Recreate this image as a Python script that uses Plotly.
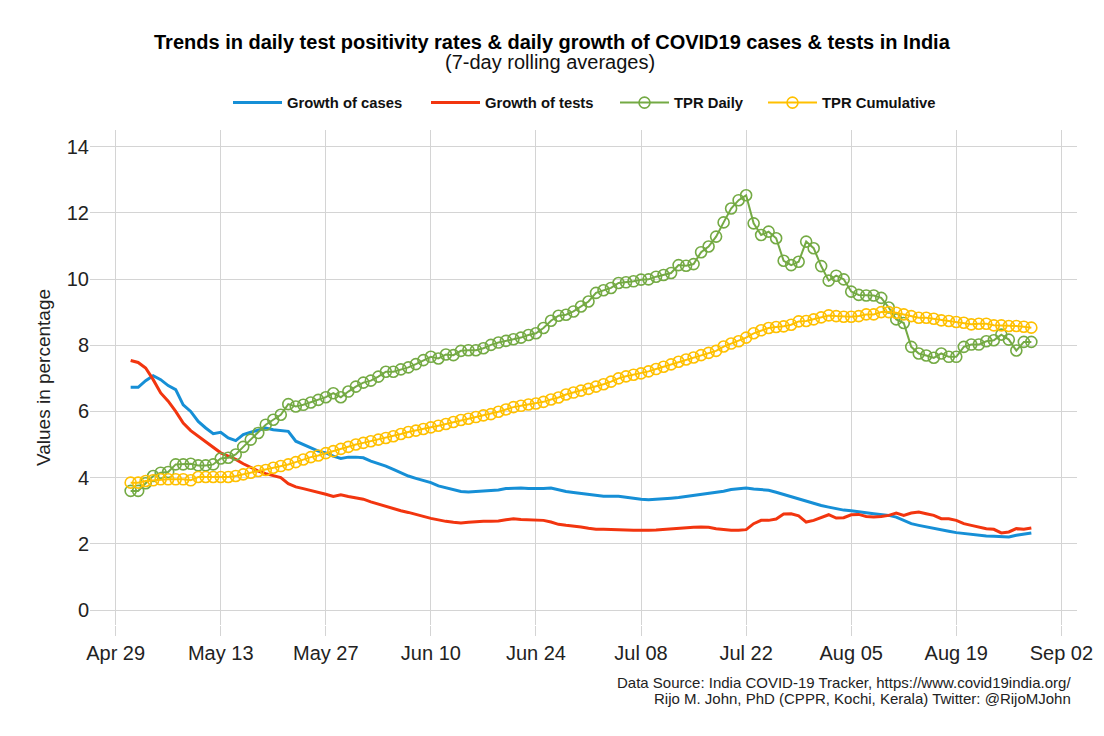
import pandas as pd
import plotly.graph_objects as go

start_date = "2020-05-01"
n_days = 121
dates = pd.date_range(start_date, periods=n_days, freq="D")

growth_cases = [
    6.73, 6.73, 6.93, 7.08, 6.96, 6.78, 6.66, 6.20, 6.00, 5.70,
    5.50, 5.33, 5.37, 5.20, 5.12, 5.30, 5.37, 5.43, 5.50, 5.45,
    5.42, 5.40, 5.10, 5.00, 4.88, 4.80, 4.75, 4.65, 4.58, 4.62,
    4.62, 4.60, 4.50, 4.43, 4.35, 4.25, 4.15, 4.05, 3.98, 3.92,
    3.85, 3.75, 3.70, 3.63, 3.58, 3.57, 3.58, 3.60, 3.61, 3.63,
    3.67, 3.69, 3.69, 3.67, 3.66, 3.67, 3.69, 3.63, 3.58, 3.55,
    3.52, 3.49, 3.45, 3.44, 3.44, 3.44, 3.41, 3.37, 3.35, 3.33,
    3.34, 3.36, 3.38, 3.40, 3.43, 3.45, 3.50, 3.53, 3.55, 3.59,
    3.64, 3.66, 3.69, 3.66, 3.65, 3.62, 3.56, 3.49, 3.44, 3.37,
    3.29, 3.22, 3.16, 3.11, 3.06, 3.02, 3.00, 2.98, 2.94, 2.91,
    2.89, 2.86, 2.81, 2.71, 2.61, 2.56, 2.51, 2.46, 2.41, 2.38,
    2.34, 2.31, 2.29, 2.26, 2.24, 2.23, 2.21, 2.21, 2.26, 2.29,
    2.33,
]

growth_tests = [
    7.54, 7.48, 7.31, 6.96, 6.56, 6.31, 6.00, 5.65, 5.42, 5.25,
    5.07, 4.90, 4.75, 4.65, 4.55, 4.42, 4.30, 4.20, 4.12, 4.05,
    4.00, 3.82, 3.72, 3.67, 3.62, 3.55, 3.50, 3.43, 3.48, 3.43,
    3.40, 3.35, 3.27, 3.20, 3.15, 3.07, 3.00, 2.95, 2.90, 2.83,
    2.77, 2.72, 2.68, 2.65, 2.63, 2.65, 2.67, 2.68, 2.68, 2.69,
    2.73, 2.76, 2.74, 2.73, 2.73, 2.71, 2.66, 2.59, 2.56, 2.54,
    2.51, 2.47, 2.44, 2.44, 2.44, 2.43, 2.42, 2.41, 2.40, 2.41,
    2.42, 2.44, 2.46, 2.47, 2.48, 2.50, 2.51, 2.50, 2.46, 2.43,
    2.41, 2.41, 2.43, 2.61, 2.71, 2.71, 2.75, 2.90, 2.91, 2.85,
    2.66, 2.71, 2.80, 2.88, 2.78, 2.79, 2.88, 2.89, 2.83, 2.81,
    2.83, 2.86, 2.93, 2.86, 2.93, 2.96, 2.91, 2.86, 2.76, 2.76,
    2.71, 2.61, 2.56, 2.51, 2.46, 2.44, 2.33, 2.36, 2.46, 2.44,
    2.48,
]

tpr_daily = [
    3.60, 3.60, 3.83, 4.05, 4.15, 4.17, 4.40, 4.40, 4.42, 4.37,
    4.37, 4.40, 4.58, 4.60, 4.70, 4.93, 5.15, 5.35, 5.60, 5.75,
    5.90, 6.22, 6.15, 6.20, 6.27, 6.35, 6.43, 6.55, 6.43, 6.60,
    6.75, 6.87, 6.93, 7.05, 7.20, 7.20, 7.27, 7.33, 7.43, 7.55,
    7.65, 7.60, 7.72, 7.70, 7.83, 7.85, 7.85, 7.91, 8.01, 8.08,
    8.13, 8.18, 8.23, 8.31, 8.36, 8.52, 8.74, 8.89, 8.92, 9.02,
    9.17, 9.32, 9.58, 9.66, 9.73, 9.88, 9.90, 9.93, 9.98, 9.99,
    10.07, 10.12, 10.18, 10.42, 10.40, 10.45, 10.81, 10.98, 11.28, 11.71,
    12.13, 12.38, 12.53, 11.68, 11.33, 11.43, 11.23, 10.55, 10.42, 10.52,
    11.13, 10.93, 10.39, 9.95, 10.10, 9.99, 9.62, 9.52, 9.50, 9.50,
    9.43, 9.14, 8.78, 8.67, 7.95, 7.75, 7.69, 7.62, 7.75, 7.65,
    7.65, 7.95, 8.02, 8.02, 8.12, 8.15, 8.32, 8.17, 7.84, 8.10,
    8.10,
]

tpr_cumulative = [
    3.85, 3.85, 3.90, 3.92, 3.95, 3.95, 3.95, 3.95, 3.92, 4.02,
    4.02, 4.02, 4.02, 4.02, 4.05, 4.10, 4.15, 4.20, 4.23, 4.30,
    4.35, 4.40, 4.47, 4.55, 4.62, 4.67, 4.74, 4.80, 4.87, 4.93,
    5.00, 5.05, 5.10, 5.15, 5.20, 5.25, 5.32, 5.38, 5.42, 5.47,
    5.52, 5.57, 5.62, 5.68, 5.74, 5.78, 5.83, 5.88, 5.92, 5.99,
    6.06, 6.13, 6.17, 6.21, 6.24, 6.29, 6.36, 6.42, 6.51, 6.57,
    6.63, 6.68, 6.75, 6.82, 6.90, 7.00, 7.06, 7.11, 7.15, 7.21,
    7.28, 7.35, 7.42, 7.50, 7.57, 7.63, 7.70, 7.77, 7.83, 7.96,
    8.05, 8.12, 8.23, 8.36, 8.45, 8.52, 8.55, 8.57, 8.62, 8.72,
    8.73, 8.78, 8.84, 8.90, 8.88, 8.86, 8.86, 8.88, 8.93, 8.93,
    9.00, 9.00, 8.98, 8.93, 8.88, 8.83, 8.83, 8.80, 8.75, 8.73,
    8.70, 8.68, 8.63, 8.65, 8.65, 8.60, 8.60, 8.58, 8.58, 8.56,
    8.53,
]

series_names = ["Growth of cases", "Growth of tests", "TPR Daily", "TPR Cumulative"]
y_tick_values = [0, 2, 4, 6, 8, 10, 12, 14]

C_BLUE = "#168FD6"
C_RED = "#F2350F"
C_GREEN = "#74AA44"
C_YELLOW = "#FFC000"
FONT = "Liberation Sans, Arial, sans-serif"

# The page body has an 8px default margin: the figure is sized to fill the rest.
FIG_W, FIG_H = 1096, 728

fig = go.Figure()
fig.add_trace(go.Scatter(x=dates, y=growth_cases, name=series_names[0], mode="lines",
                         line=dict(color=C_BLUE, width=3), legend="legend"))
fig.add_trace(go.Scatter(x=dates, y=growth_tests, name=series_names[1], mode="lines",
                         line=dict(color=C_RED, width=3), legend="legend2"))
fig.add_trace(go.Scatter(x=dates, y=tpr_daily, name=series_names[2], mode="lines+markers",
                         line=dict(color=C_GREEN, width=2),
                         marker=dict(symbol="circle-open", size=11, color=C_GREEN,
                                     line=dict(width=1.6, color=C_GREEN)),
                         legend="legend3"))
fig.add_trace(go.Scatter(x=dates, y=tpr_cumulative, name=series_names[3], mode="lines+markers",
                         line=dict(color=C_YELLOW, width=2),
                         marker=dict(symbol="circle-open", size=11, color=C_YELLOW,
                                     line=dict(width=1.6, color=C_YELLOW)),
                         legend="legend4"))

legend_y = 1 - 95 / FIG_H
legend_font = dict(size=14.8, color="#111111", family=FONT, weight="bold")


def make_legend(x_px):
    return dict(orientation="h", xref="container", x=x_px / FIG_W, xanchor="left",
                yref="container", y=legend_y, yanchor="middle",
                font=legend_font, itemwidth=49, bgcolor="rgba(0,0,0,0)",
                borderwidth=0)


fig.update_layout(
    width=FIG_W, height=FIG_H,
    margin=dict(l=82, r=27, t=122, b=111, autoexpand=False),
    paper_bgcolor="white", plot_bgcolor="white",
    font=dict(family=FONT, color="#222222"),
    legend=make_legend(235 - 8 - 7),
    legend2=make_legend(433 - 8 - 7),
    legend3=make_legend(622 - 8 - 7),
    legend4=make_legend(770 - 8 - 7),
    showlegend=True,
)

fig.update_xaxes(
    range=["2020-04-25 14:00", "2020-09-04 02:00"],
    tick0="2020-04-29", dtick=14 * 24 * 3600 * 1000, tickformat="%b %d",
    showgrid=True, gridcolor="#D4D4D4", gridwidth=1.2,
    ticks="outside", ticklen=10, tickcolor="#D4D4D4", tickwidth=1.2,
    showline=False, zeroline=False, automargin=False,
    tickfont=dict(size=20, color="#222222"),
)
fig.update_yaxes(
    range=[-0.45, 14.5], tickvals=y_tick_values,
    showgrid=True, gridcolor="#D4D4D4", gridwidth=1.2,
    ticks="", showline=False, zeroline=False, automargin=False,
    tickfont=dict(size=20, color="#222222"),
    title=dict(text="Values in percentage", font=dict(size=19, color="#222222"), standoff=11),
)

fig.add_annotation(
    text="<b>Trends in daily test positivity rates & daily growth of COVID19 cases & tests in India</b>",
    xref="paper", yref="paper", x=0.4686, xanchor="center",
    y=1 + (122 - 34) / 495, yanchor="middle",
    showarrow=False, font=dict(size=20, color="#000000", family=FONT),
)
fig.add_annotation(
    text="(7-day rolling averages)",
    xref="paper", yref="paper", x=0.466, xanchor="center",
    y=1 + (122 - 54) / 495, yanchor="middle",
    showarrow=False, font=dict(size=20, color="#111111", family=FONT),
)
fig.add_annotation(
    text="Data Source: India COVID-19 Tracker, https://www.covid19india.org/",
    xref="paper", yref="paper", x=1.0, xanchor="right", xshift=-4,
    y=-0.1152, yanchor="middle",
    showarrow=False, font=dict(size=15, color="#222222", family=FONT),
)
fig.add_annotation(
    text="Rijo M. John, PhD (CPPR, Kochi, Kerala) Twitter: @RijoMJohn",
    xref="paper", yref="paper", x=1.0, xanchor="right", xshift=-4,
    y=-0.1475, yanchor="middle",
    showarrow=False, font=dict(size=15, color="#222222", family=FONT),
)

fig.write_html("out.html")
